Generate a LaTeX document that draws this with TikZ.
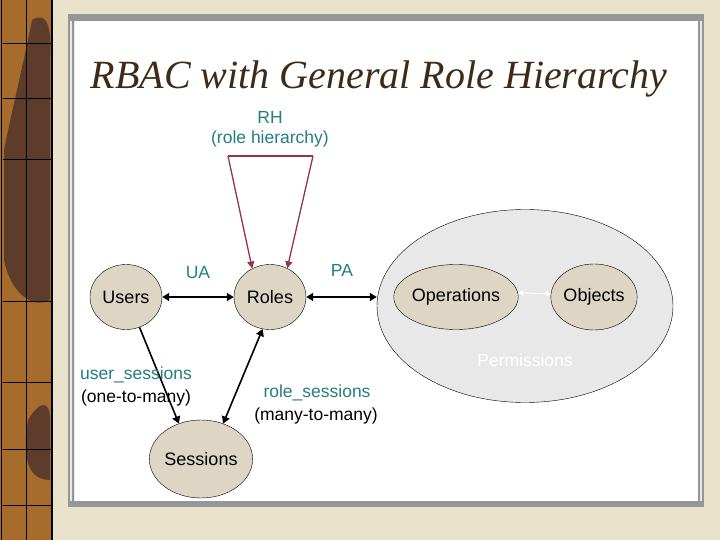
\documentclass[tikz,border=0pt]{standalone}
\usepackage{fontspec}
\setmainfont{Liberation Sans}
\newfontfamily\titlefont{Liberation Serif}
\usetikzlibrary{shapes.geometric,arrows.meta}

\definecolor{slidebg}{RGB}{233,227,203}
\definecolor{stripbrown}{RGB}{166,108,44}
\definecolor{stripdark}{RGB}{94,60,44}
\definecolor{framegray}{RGB}{150,150,150}
\definecolor{nodefill}{RGB}{221,214,197}
\definecolor{permfill}{RGB}{232,232,232}
\definecolor{labelteal}{RGB}{38,126,126}
\definecolor{rhred}{RGB}{150,52,76}
\definecolor{titlebrown}{RGB}{62,42,22}

\tikzset{
  entity/.style={ellipse, draw=black, thin, fill=nodefill, inner sep=0pt,
    font=\fontsize{18}{20}\selectfont},
  rel/.style={line width=1.6pt,
    {Triangle[length=7pt,width=8pt]}-{Triangle[length=7pt,width=8pt]}},
  lbl/.style={font=\fontsize{17.5}{20}\selectfont},
}

\begin{document}
\begin{tikzpicture}[x=1pt,y=-1pt]
  \useasboundingbox (0,0) rectangle (720,540);

  % Slide background
  \fill[slidebg] (0,0) rectangle (720,540);

  % Left strip
  \fill[stripbrown] (0,0) rectangle (53,540);
  \fill[stripdark] (32,20) .. controls (48,10) and (52,30) .. (50,60)
    -- (50,300) .. controls (30,310) and (10,290) .. (4,260)
    -- (4,150) .. controls (12,110) and (22,70) .. (32,20) -- cycle;
  \fill[stripdark] (28,420) .. controls (40,400) and (50,400) .. (50,420)
    -- (50,480) .. controls (35,480) and (20,470) .. (28,420) -- cycle;
  \draw[black, line width=0.6pt] (26,0) -- (26,540);
  \foreach \yy in {43,98,159,301,382,449,505}
    \draw[black, line width=0.6pt] (3,\yy) -- (51,\yy);
  \draw[black, line width=2pt] (52,0) -- (52,540);
  \draw[black, line width=1pt] (1,0) -- (1,540);

  % Panel
  \fill[framegray] (68,14) rectangle (704,507);
  \fill[permfill] (70,21) rectangle (702,501);
  \fill[white] (75,21) rectangle (698,501);
  \draw[framegray, line width=1.5pt] (73,21) -- (73,501);
  \draw[framegray, line width=1.5pt] (699,21) -- (699,501);

  % Title
  \node[anchor=base, text=titlebrown, font=\titlefont\itshape\fontsize{40}{44}\selectfont]
    (title) at (379,89) {RBAC with General Role Hierarchy};

  % Permissions
  \node[ellipse, draw=black, thin, fill=permfill, minimum width=296pt,
    minimum height=193pt, inner sep=0pt] (perm) at (525,306) {};
  \node[lbl, text=white] (permlbl) at (525,360) {Permissions};

  % Entities
  \node[entity, minimum width=72pt, minimum height=65pt] (users) at (126,297) {Users};
  \node[entity, minimum width=72pt, minimum height=65pt] (roles) at (270,297) {Roles};
  \node[entity, minimum width=78pt, minimum height=78pt] (sessions) at (201,459) {Sessions};
  \node[entity, minimum width=96pt, minimum height=65pt] (ops) at (456,297) {Operations};
  \node[entity, minimum width=72pt, minimum height=66pt] (objs) at (594,297) {Objects};

  % Relations
  \draw[rel] (users) -- (roles);
  \draw[rel] (roles.east) -- (perm.west |- roles.east);
  \draw[rel] (sessions.58) -- (roles.257);
  \draw[line width=1.6pt, -{Triangle[length=7pt,width=8pt]}] (users.294) -- (sessions.122);
  \draw[white, line width=1pt, {Triangle[length=5pt,width=5pt]}-{Triangle[length=5pt,width=5pt]}]
    (ops.4) -- (objs.176);

  % Role hierarchy
  \coordinate (rhl) at (228,156);
  \coordinate (rhr) at (313,156);
  \draw[rhred, line width=1.3pt] (rhl) -- (rhr);
  \draw[rhred, line width=1.3pt, -{Triangle[length=7pt,width=7pt]}] (rhl) -- (roles.122);
  \draw[rhred, line width=1.3pt, -{Triangle[length=7pt,width=7pt]}] (rhr) -- (roles.59);

  % Labels
  \node[lbl, text=labelteal] (rh) at (270,117) {RH};
  \node[lbl, text=labelteal] (rhtext) at (270,139) {(role hierarchy)};
  \node[lbl, text=labelteal] (ua) at (198,273) {UA};
  \node[lbl, text=labelteal] (pa) at (342,270) {PA};
  \node[lbl, text=labelteal] (us) at (136,375) {user\_sessions};
  \node[lbl] (usmult) at (136,398) {(one-to-many)};
  \node[lbl, text=labelteal] (rs) at (317,393) {role\_sessions};
  \node[lbl] (rsmult) at (316,416) {(many-to-many)};
\end{tikzpicture}
\end{document}
